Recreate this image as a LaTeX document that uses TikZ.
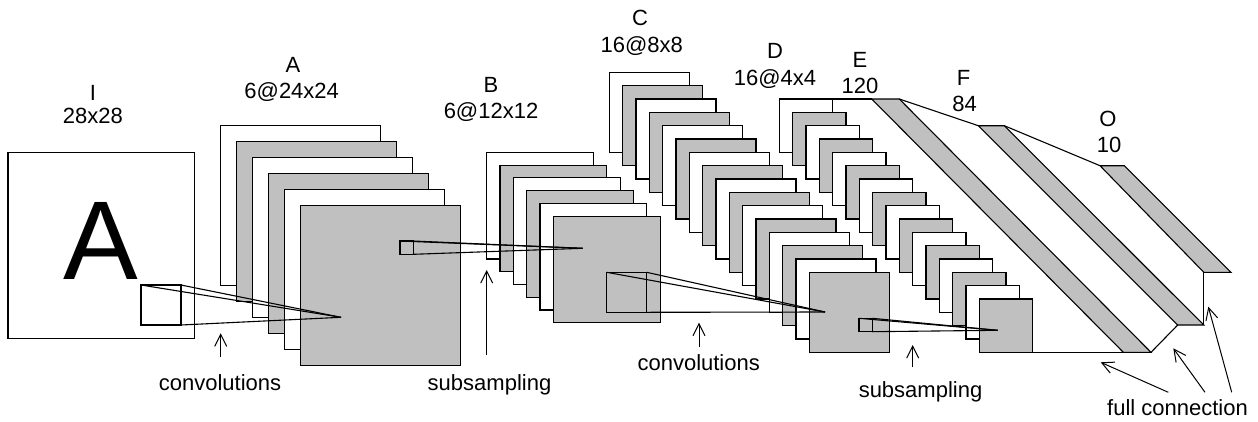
\documentclass[tikz,border=0pt]{standalone}
\usepackage{fontspec}
\setmainfont{Liberation Sans}
\usetikzlibrary{arrows.meta}
\definecolor{mapgray}{HTML}{C0C0C0}
\tikzset{
  fmap/.style={draw=black, line width=1.1pt},
  band/.style={draw=black, line width=1.1pt, fill=mapgray},
  wire/.style={draw=black, line width=1.1pt},
  kern/.style={draw=black, line width=1.1pt},
  lbl/.style={font=\fontsize{22}{26}\selectfont, inner sep=0pt, anchor=base},
  pointer/.style={draw=black, line width=1pt, -{Straight Barb[length=12pt,width=12pt]}},
}
\begin{document}
\begin{tikzpicture}[x=1pt, y=-1pt, line join=miter]
\useasboundingbox (0,0) rectangle (1258,421);

% ---- input plane I ----
\draw[fmap, fill=white] (8,152.3) rectangle (194.3,338.7);
\node[font=\fontsize{112}{112}\selectfont, inner sep=0pt, anchor=base] (glyph) at (100.8,279.3) {A};

% ---- feature map stacks (back to front, alternating white / gray) ----
\foreach \i in {0,...,5}{
  \ifodd\i \def\fc{mapgray}\else\def\fc{white}\fi
  \draw[fmap, fill=\fc] (220.7+16*\i, 125.7+16*\i) rectangle ++(160,160);
}
\foreach \i in {0,...,5}{
  \ifodd\i \def\fc{mapgray}\else\def\fc{white}\fi
  \draw[fmap, fill=\fc] (486.7+13.333*\i, 152.3+12.75*\i) rectangle ++(106.7,106.7);
}
\foreach \i in {0,...,15}{
  \ifodd\i \def\fc{mapgray}\else\def\fc{white}\fi
  \draw[fmap, fill=\fc] (609.3+13.333*\i, 72.3+13.333*\i) rectangle ++(80,80);
}
\foreach \i in {0,...,15}{
  \ifodd\i \def\fc{mapgray}\else\def\fc{white}\fi
  \draw[fmap, fill=\fc] (779.3+13.333*\i, 99+13.333*\i) rectangle ++(53.33,53.33);
}

% ---- fully connected layers E, F, O ----
\coordinate (dtr) at (832.6,99);
\coordinate (dbr) at (1032.5,352.3);
\coordinate (e1) at (871.7,99);   \coordinate (e2) at (899.3,99);
\coordinate (e3) at (1151,352.3); \coordinate (e4) at (1123.3,352.3);
\coordinate (f1) at (978.3,125.7); \coordinate (f2) at (1004.3,125.7);
\coordinate (f3) at (1203.8,325);  \coordinate (f4) at (1177.7,325);
\coordinate (o1) at (1100,165.7);  \coordinate (o2) at (1124.3,165.7);
\coordinate (o3) at (1231,272.3);  \coordinate (o4) at (1203.8,272.3);
\draw[band] (e1) -- (e2) -- (e3) -- (e4) -- cycle;
\draw[band] (f1) -- (f2) -- (f3) -- (f4) -- cycle;
\draw[band] (o1) -- (o2) -- (o3) -- (o4) -- cycle;
\draw[wire] (dtr) -- (e1);
\draw[wire] (e2) -- (f1);
\draw[wire] (f2) -- (o1);
\draw[wire] (dbr) -- (e4);
\draw[wire] (e3) -- (f4);
\draw[wire] (f3) -- (o4);

% ---- receptive fields and their projections ----
\coordinate (k1a) at (141,285);   \coordinate (k1b) at (181,325);   \coordinate (p1) at (341,317.3);
\coordinate (k2a) at (400,241);   \coordinate (k2b) at (413.3,254.3); \coordinate (p2) at (582.7,248.3);
\coordinate (k3a) at (606.7,272.3); \coordinate (k3b) at (646.7,312.3); \coordinate (p3) at (825,312);
\coordinate (k4a) at (859,318.3); \coordinate (k4b) at (872.3,331.7); \coordinate (p4) at (997.7,330.3);
\foreach \k/\p in {k1/p1, k2/p2, k3/p3, k4/p4}{
  \draw[kern] (\k a) rectangle (\k b);
  \draw[kern] (\k a) -- (\p);
  \draw[kern] (\k a -| \k b) -- (\p);
  \draw[kern] (\k b) -- (\p);
}

% ---- layer labels ----
\node[lbl] (tI)  at (92.9,100.5) {I};
\node[lbl] (sI)  at (92.9,123)   {28x28};
\node[lbl] (tA)  at (293,72.5)   {A};
\node[lbl] (sA)  at (291.7,98)   {6@24x24};
\node[lbl] (tB)  at (491,92)     {B};
\node[lbl] (sB)  at (491,118)    {6@12x12};
\node[lbl] (tC)  at (640,25.5)   {C};
\node[lbl] (sC)  at (641.7,52)   {16@8x8};
\node[lbl] (tD)  at (775,58.3)   {D};
\node[lbl] (sD)  at (775,85.3)   {16@4x4};
\node[lbl] (tE)  at (860,67)     {E};
\node[lbl] (sE)  at (860,93)     {120};
\node[lbl] (tF)  at (963.5,85.7) {F};
\node[lbl] (sF)  at (964.7,111.5){84};
\node[lbl] (tO)  at (1108,126.5) {O};
\node[lbl] (sO)  at (1109,152.3) {10};

% ---- operation captions and pointers ----
\node[lbl] (cv1) at (220,390)    {convolutions};
\node[lbl] (ss1) at (489.5,390)  {subsampling};
\node[lbl] (cv2) at (698.7,370)  {convolutions};
\node[lbl] (ss2) at (920.5,397)  {subsampling};
\node[lbl] (fc)  at (1177.5,415) {full connection};

\coordinate (a1s) at (220.7,357.3); \coordinate (a1t) at (220.7,333.3);
\coordinate (a2s) at (486.7,355);   \coordinate (a2t) at (486.7,270);
\coordinate (a3s) at (699,346.7);   \coordinate (a3t) at (699,322.7);
\coordinate (a4s) at (912.7,367.3); \coordinate (a4t) at (912.7,345);
\coordinate (a5s) at (1168.3,392.3); \coordinate (a5t) at (1100.7,362.3);
\coordinate (a6s) at (1205,392.3);   \coordinate (a6t) at (1173.3,348.3);
\coordinate (a7s) at (1231.7,392.3); \coordinate (a7t) at (1208.3,306.7);
\foreach \n in {1,...,7}{
  \draw[pointer] (a\n s) -- (a\n t);
}
\end{tikzpicture}
\end{document}
